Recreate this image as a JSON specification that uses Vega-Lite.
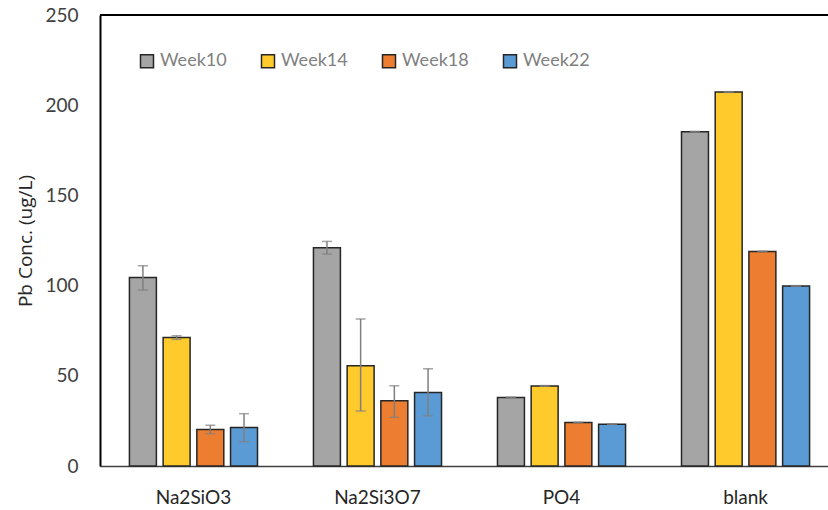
{
  "$schema": "https://vega.github.io/schema/vega-lite/v6.json",
  "autosize": {"type": "none"},
  "padding": {"left": 100, "top": 15, "right": 0, "bottom": 44},
  "width": 728,
  "height": 451,
  "background": "white",
  "config": {
    "view": {"stroke": null},
    "font": "Lato"
  },
  "data": {
    "values": [
      {"group": "Na2SiO3", "week": "Week10", "value": 104.5, "lo": 97.5, "hi": 111.0},
      {"group": "Na2SiO3", "week": "Week14", "value": 71.2, "lo": 70.2, "hi": 72.2},
      {"group": "Na2SiO3", "week": "Week18", "value": 20.3, "lo": 17.9, "hi": 22.6},
      {"group": "Na2SiO3", "week": "Week22", "value": 21.3, "lo": 13.5, "hi": 29.0},
      {"group": "Na2Si3O7", "week": "Week10", "value": 121.0, "lo": 117.5, "hi": 124.5},
      {"group": "Na2Si3O7", "week": "Week14", "value": 55.6, "lo": 30.5, "hi": 81.5},
      {"group": "Na2Si3O7", "week": "Week18", "value": 36.2, "lo": 27.0, "hi": 44.5},
      {"group": "Na2Si3O7", "week": "Week22", "value": 40.8, "lo": 27.8, "hi": 53.9},
      {"group": "PO4", "week": "Week10", "value": 38.0, "lo": 37.8, "hi": 38.2},
      {"group": "PO4", "week": "Week14", "value": 44.4, "lo": 44.2, "hi": 44.6},
      {"group": "PO4", "week": "Week18", "value": 24.1, "lo": 23.9, "hi": 24.3},
      {"group": "PO4", "week": "Week22", "value": 23.2, "lo": 23.0, "hi": 23.4},
      {"group": "blank", "week": "Week10", "value": 185.3, "lo": 185.1, "hi": 185.5},
      {"group": "blank", "week": "Week14", "value": 207.3, "lo": 207.1, "hi": 207.5},
      {"group": "blank", "week": "Week18", "value": 118.9, "lo": 118.7, "hi": 119.1},
      {"group": "blank", "week": "Week22", "value": 99.8, "lo": 99.6, "hi": 100.0}
    ]
  },
  "layer": [
    {
      "encoding": {
        "x": {
          "field": "group",
          "type": "nominal",
          "sort": ["Na2SiO3", "Na2Si3O7", "PO4", "blank"],
          "scale": {"paddingInner": 0.304, "paddingOuter": 0.13, "align": 0.615},
          "axis": {
            "title": null,
            "labelAngle": 0,
            "labelFontSize": 19,
            "labelColor": "#262626",
            "labelPadding": 22,
            "ticks": false,
            "domainColor": "#404040",
            "domainWidth": 1.5
          }
        },
        "xOffset": {
          "field": "week",
          "type": "nominal",
          "sort": ["Week10", "Week14", "Week18", "Week22"],
          "scale": {"paddingInner": 0.2, "paddingOuter": 0}
        }
      },
      "layer": [
        {
          "mark": {"type": "bar", "stroke": "#262626", "strokeWidth": 1.5},
          "encoding": {
            "y": {
              "field": "value",
              "type": "quantitative",
              "scale": {"domain": [0, 250], "nice": false},
              "axis": {
                "title": "Pb Conc. (ug/L)",
                "titleFont": "Open Sans",
                "titleFontSize": 19,
                "titleFontWeight": "normal",
                "titleColor": "#262626",
                "titlePadding": 9,
                "values": [0, 50, 100, 150, 200, 250],
                "labelFontSize": 19,
                "labelColor": "#404040",
                "labelPadding": 22,
                "ticks": false,
                "grid": false,
                "domainColor": "#000000",
                "domainWidth": 2
              }
            },
            "fill": {
              "field": "week",
              "type": "nominal",
              "sort": ["Week10", "Week14", "Week18", "Week22"],
              "scale": {
                "domain": ["Week10", "Week14", "Week18", "Week22"],
                "range": ["#A5A5A5", "#FFCA2C", "#ED7D31", "#5B9BD5"]
              },
              "legend": {
                "title": null,
                "orient": "none",
                "direction": "horizontal",
                "legendX": 38,
                "legendY": 37,
                "symbolType": "square",
                "symbolSize": 169,
                "symbolStrokeColor": "#262626",
                "symbolStrokeWidth": 1.5,
                "labelFontSize": 18,
                "labelColor": "#7F7F7F",
                "columnPadding": 31,
                "labelOffset": 4
              }
            }
          }
        },
        {
          "mark": {"type": "rule", "color": "#7F7F7F", "strokeWidth": 1.5},
          "encoding": {
            "y": {"field": "lo", "type": "quantitative"},
            "y2": {"field": "hi"}
          }
        },
        {
          "mark": {"type": "tick", "color": "#7F7F7F", "thickness": 1.5, "size": 10, "orient": "horizontal"},
          "encoding": {
            "y": {"field": "lo", "type": "quantitative"}
          }
        },
        {
          "mark": {"type": "tick", "color": "#7F7F7F", "thickness": 1.5, "size": 10, "orient": "horizontal"},
          "encoding": {
            "y": {"field": "hi", "type": "quantitative"}
          }
        }
      ]
    },
    {
      "mark": {"type": "rule", "color": "#000000", "strokeWidth": 2},
      "encoding": {
        "y": {"datum": 250}
      }
    }
  ]
}
